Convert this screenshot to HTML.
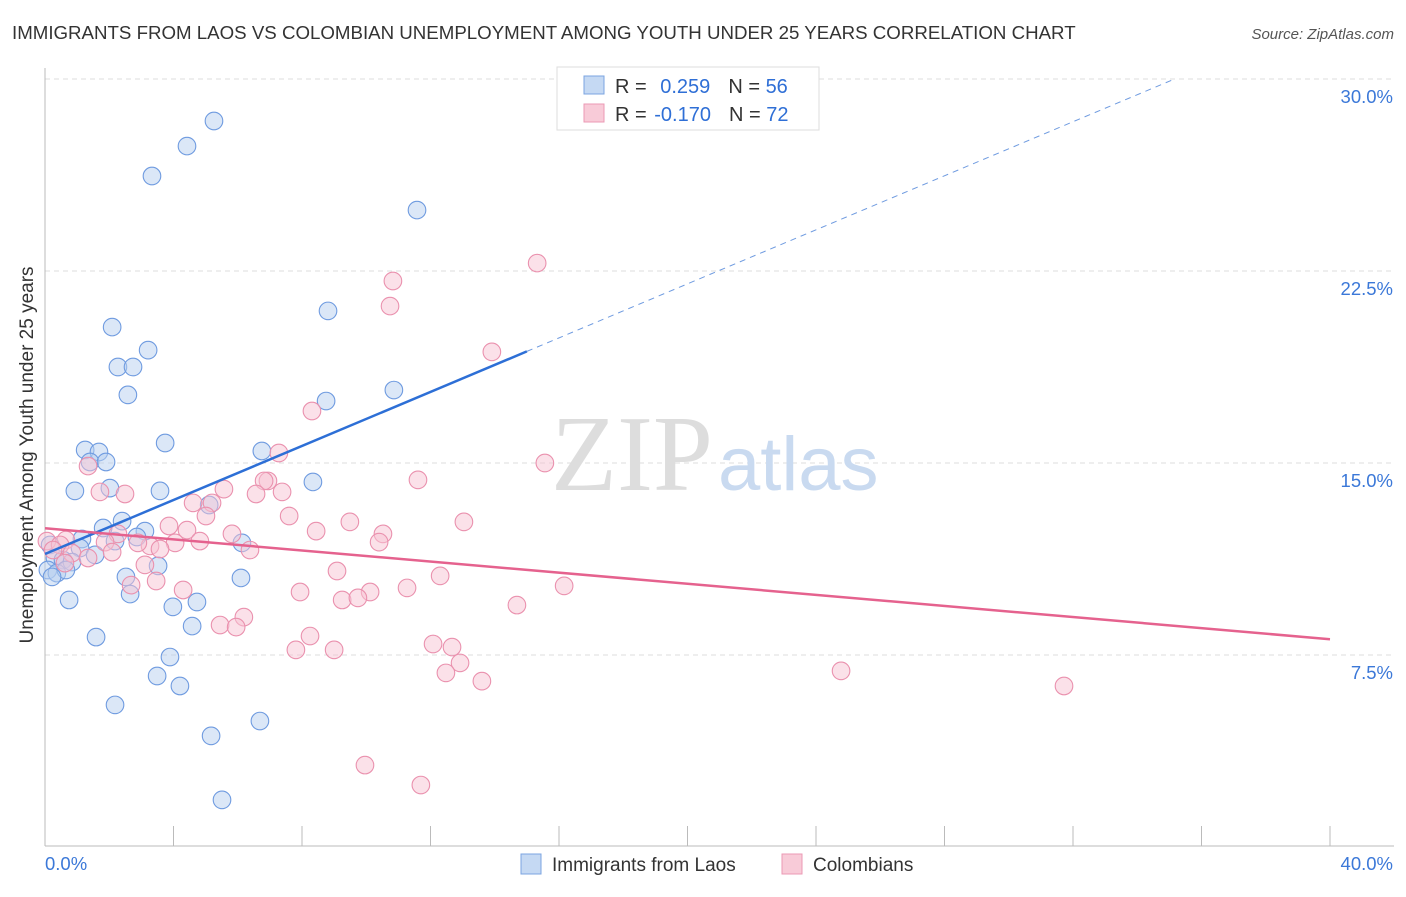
<!DOCTYPE html>
<html><head><meta charset="utf-8"><style>
body{margin:0;background:#fff;font-family:"Liberation Sans",sans-serif}
svg text{font-family:"Liberation Sans",sans-serif}
</style></head><body>
<svg id="chart" width="1406" height="892">
<text x="12" y="39" font-size="18.7" fill="#333">IMMIGRANTS FROM LAOS VS COLOMBIAN UNEMPLOYMENT AMONG YOUTH UNDER 25 YEARS CORRELATION CHART</text>
<text x="1394" y="39" font-size="15" fill="#555" font-style="italic" text-anchor="end">Source: ZipAtlas.com</text>
<g id="grid"></g>
<text x="713" y="490" font-size="108" fill="#ddd" text-anchor="end" style="font-family:'Liberation Serif',serif">ZIP</text>
<text x="718" y="490" font-size="76" fill="#c9daf0">atlas</text>
<g id="points"></g>
<g id="lines"></g>
<text x="33" y="455" font-size="19" fill="#333" text-anchor="middle" transform="rotate(-90 33 455)">Unemployment Among Youth under 25 years</text>
<g id="legend">
<rect x="557" y="67" width="262" height="63" fill="#fff" stroke="#ddd"/>
<rect x="584" y="76" width="20" height="18" fill="#c5d9f3" stroke="#7ba4e0"/>
<rect x="584" y="104" width="20" height="18" fill="#f8cbd8" stroke="#eb9ab4"/>
<text x="615" y="93" font-size="20" fill="#333">R = <tspan fill="#2f6fd6" dx="8">0.259</tspan><tspan dx="18">N = </tspan><tspan fill="#2f6fd6">56</tspan></text>
<text x="615" y="121" font-size="20" fill="#333">R = <tspan fill="#2f6fd6" dx="2">-0.170</tspan><tspan dx="18">N = </tspan><tspan fill="#2f6fd6">72</tspan></text>
</g>
<g>
<rect x="521" y="854" width="20" height="20" fill="#c5d9f3" stroke="#7ba4e0"/>
<text x="552" y="871" font-size="19" fill="#333">Immigrants from Laos</text>
<rect x="782" y="854" width="20" height="20" fill="#f8cbd8" stroke="#eb9ab4"/>
<text x="813" y="871" font-size="19" fill="#333">Colombians</text>
</g>
</svg>
<script>
const blueX=[5.26,4.42,3.33,11.58,8.81,2.09,3.21,2.27,2.74,10.86,2.58,8.75,3.74,1.25,1.68,6.75,1.40,1.90,8.34,2.02,0.93,3.58,5.11,2.40,1.81,3.11,2.86,1.15,6.13,0.16,2.18,1.09,1.56,0.31,0.56,0.84,3.52,0.09,0.37,0.65,0.22,2.52,6.10,2.65,0.75,4.73,3.98,4.58,1.59,3.89,3.49,4.20,2.18,6.69,5.17,5.51];
const blueY=[28.36,27.38,26.21,24.88,20.94,20.31,19.41,18.75,18.75,17.85,17.66,17.42,15.78,15.51,15.43,15.47,15.04,15.04,14.26,14.02,13.91,13.91,13.36,12.73,12.46,12.34,12.11,12.03,11.88,11.80,11.95,11.68,11.41,11.29,11.21,11.13,10.98,10.82,10.70,10.82,10.55,10.55,10.51,9.88,9.65,9.57,9.38,8.63,8.20,7.42,6.68,6.29,5.55,4.92,4.34,1.84];
const pinkX=[15.32,10.83,10.74,13.91,8.31,7.28,15.56,1.34,11.61,6.94,6.82,5.57,1.71,2.49,6.57,7.38,4.61,5.20,5.01,7.60,13.04,9.49,3.86,4.42,10.52,8.44,5.82,2.27,10.40,0.65,4.82,4.05,6.38,3.27,2.89,1.87,0.06,0.47,0.25,3.58,2.09,0.84,1.34,3.11,0.62,9.09,12.30,3.46,4.30,2.68,16.16,11.27,7.94,10.12,9.25,9.74,14.69,6.19,5.45,5.95,8.25,7.81,9.00,12.08,12.67,12.92,12.48,13.60,24.78,31.72,9.96,11.70];
const pinkY=[22.81,22.11,21.13,19.34,17.03,15.39,15.0,14.88,14.34,14.30,14.30,13.98,13.87,13.79,13.79,13.87,13.44,13.44,12.93,12.93,12.70,12.70,12.54,12.38,12.23,12.34,12.23,12.23,11.91,11.99,11.95,11.88,11.60,11.76,11.88,11.91,11.95,11.80,11.60,11.64,11.52,11.48,11.29,11.02,11.09,10.78,10.59,10.39,10.04,10.23,10.20,10.12,9.96,9.96,9.65,9.73,9.45,8.98,8.67,8.59,8.24,7.70,7.70,7.93,7.81,7.19,6.80,6.48,6.88,6.29,3.20,2.42];
const yTicks=[7.5,15,22.5,30];
const yTickLabels=["7.5%","15.0%","22.5%","30.0%"];
const xTicks=[0,4,8,12,16,20,24,28,32,36,40];
const NS="http://www.w3.org/2000/svg";
const sx=v=>45+v*32.125, sy=v=>847-v*25.6;
function mk(tag,attrs,parent){const e=document.createElementNS(NS,tag);for(const k in attrs)e.setAttribute(k,attrs[k]);parent.appendChild(e);return e;}
const grid=document.getElementById('grid');
yTicks.forEach((t,i)=>{
 const l=mk('line',{x1:45,x2:1394,y1:sy(t),y2:sy(t),stroke:'#ddd','stroke-dasharray':'5,4'},grid);
 
 
 const tx=mk('text',{x:1393,y:sy(t)+24,'font-size':18.5,fill:'#3b78d8','text-anchor':'end'},grid);
 tx.textContent=yTickLabels[i];
 
 
});
const ax=mk('line',{x1:45,x2:45,y1:68,y2:846,stroke:'#bbb'},grid);


const bx=mk('line',{x1:45,x2:1394,y1:846,y2:846,stroke:'#bbb'},grid);


xTicks.forEach(t=>{const l=mk('line',{x1:sx(t),x2:sx(t),y1:826,y2:846,stroke:'#bbb'},grid);
 
 });
const xl0=mk('text',{x:45,y:870,'font-size':18.5,fill:'#3b78d8'},grid);xl0.textContent='0.0%';


const xl1=mk('text',{x:1393,y:870,'font-size':18.5,fill:'#3b78d8','text-anchor':'end'},grid);xl1.textContent='40.0%';


const pts=document.getElementById('points');
function drawPts(X,Y,fill,stroke,name){X.forEach((x,i)=>{const c=mk('circle',{cx:sx(x),cy:sy(Y[i]),r:8.8,fill:fill,'fill-opacity':0.5,stroke:stroke,'stroke-width':1.1},pts);
 
 });}
drawPts(blueX,blueY,'#b8d0f0','#6f9be0','laos-point');
drawPts(pinkX,pinkY,'#f8c3d3','#ea91ae','colombian-point');
function fit(X,Y){const n=X.length;let mx=0,my=0;for(let i=0;i<n;i++){mx+=X[i];my+=Y[i];}mx/=n;my/=n;let a=0,b=0;for(let i=0;i<n;i++){a+=(X[i]-mx)*(Y[i]-my);b+=(X[i]-mx)**2;}const s=a/b;return [s,my-s*mx];}
const lines=document.getElementById('lines');
const [bs,bi]=fit(blueX,blueY);
const bl=mk('line',{x1:sx(0),y1:sy(bi),x2:sx(15),y2:sy(bi+bs*15),stroke:'#2d6fd6','stroke-width':2.5},lines);


const xe=Math.min(40,(30.0-bi)/bs);
const bd=mk('line',{x1:sx(15),y1:sy(bi+bs*15),x2:sx(xe),y2:sy(bi+bs*xe),stroke:'#6f9be0','stroke-width':1,'stroke-dasharray':'6,5'},lines);


const [ps,pi]=fit(pinkX,pinkY);
const pl=mk('line',{x1:sx(0),y1:sy(pi),x2:sx(40),y2:sy(pi+ps*40),stroke:'#e5628e','stroke-width':2.5},lines);


</script>
</body></html>
